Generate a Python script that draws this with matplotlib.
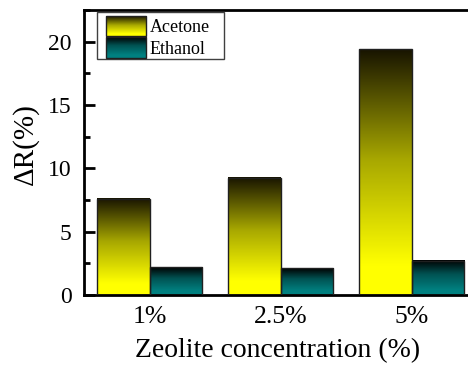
import numpy as np
import matplotlib
matplotlib.use("Agg")
import matplotlib.pyplot as plt
from matplotlib.colors import LinearSegmentedColormap
from matplotlib.image import BboxImage
from matplotlib.patches import Rectangle
from matplotlib.transforms import Bbox, TransformedBbox
from matplotlib.ticker import MultipleLocator

plt.rcParams["font.family"] = ["Liberation Serif", "DejaVu Serif"]

concentrations = ["1%", "2.5%", "5%"]
acetone = [7.6, 9.25, 19.4]
ethanol = [2.2, 2.1, 2.7]
series_names = ["Acetone", "Ethanol"]

BAR_W = 0.4

# dark at the top of each bar, full colour towards the base
cmap_acetone = LinearSegmentedColormap.from_list(
    "acetone", [(0.0, "#ffff00"), (0.12, "#ffff00"), (0.55, "#a8a800"), (1.0, "#181400")])
cmap_ethanol = LinearSegmentedColormap.from_list(
    "ethanol", [(0.0, "#008080"), (0.15, "#008080"), (0.6, "#005252"), (1.0, "#000000")])

GRAD = np.linspace(0, 1, 256).reshape(-1, 1)


def gradient_bar(ax, x0, height, cmap):
    ax.imshow(GRAD, cmap=cmap, origin="lower", aspect="auto",
              extent=[x0, x0 + BAR_W, 0, height], interpolation="bilinear", zorder=2)
    ax.add_patch(Rectangle((x0, 0), BAR_W, height, fill=False,
                           edgecolor="#202020", linewidth=1.0, zorder=3))


def legend_swatch(ax, x0, y0, w, h, cmap):
    bb = TransformedBbox(Bbox.from_bounds(x0, y0, w, h), ax.transAxes)
    img = BboxImage(bb, cmap=cmap, interpolation="bilinear", origin="lower", zorder=5)
    img.set_data(GRAD)
    ax.add_artist(img)
    ax.add_patch(Rectangle((x0, y0), w, h, transform=ax.transAxes, fill=False,
                           edgecolor="#202020", linewidth=1.0, zorder=6))


fig = plt.figure(figsize=(4.68, 3.65), dpi=100)
ax = fig.add_axes([0.180, 0.192, 0.826, 0.781])

x = np.arange(len(concentrations))
for xi, a, e in zip(x, acetone, ethanol):
    gradient_bar(ax, xi - BAR_W, a, cmap_acetone)
    gradient_bar(ax, xi, e, cmap_ethanol)

ax.set_xlim(-0.5, 2.45)
ax.set_ylim(0, 22.5)
ax.set_xticks(x)
ax.set_xticklabels(concentrations)
ax.yaxis.set_major_locator(MultipleLocator(5))
ax.yaxis.set_minor_locator(MultipleLocator(2.5))
ax.tick_params(axis="y", which="major", direction="in", length=8, width=2, labelsize=17, pad=9)
ax.tick_params(axis="y", which="minor", direction="in", length=4, width=2)
ax.tick_params(axis="x", length=0, labelsize=18.5, pad=8)
for side in ["left", "bottom", "top"]:
    ax.spines[side].set_linewidth(2)
ax.spines["right"].set_visible(False)

ax.set_xlabel("Zeolite concentration (%)", fontsize=20, labelpad=7)
ax.set_ylabel("ΔR(%)", fontsize=21)
ax.yaxis.set_label_coords(-0.117, 0.528)

# legend, laid out in axes coordinates
ax.add_patch(Rectangle((0.0336, 0.828), 0.328, 0.164, transform=ax.transAxes,
                       facecolor="white", edgecolor="#404040", linewidth=1.0, zorder=4))
rows = [(0.9098, 0.0692, 0.9218, cmap_acetone),
        (0.8326, 0.0716, 0.8456, cmap_ethanol)]
for name, (y0, h, y_text, cmap) in zip(series_names, rows):
    legend_swatch(ax, 0.0561, y0, 0.1035, h, cmap)
    ax.text(0.170, y_text, name, transform=ax.transAxes, fontsize=13,
            ha="left", va="baseline", zorder=6)

fig.savefig("out.png", dpi=100)
